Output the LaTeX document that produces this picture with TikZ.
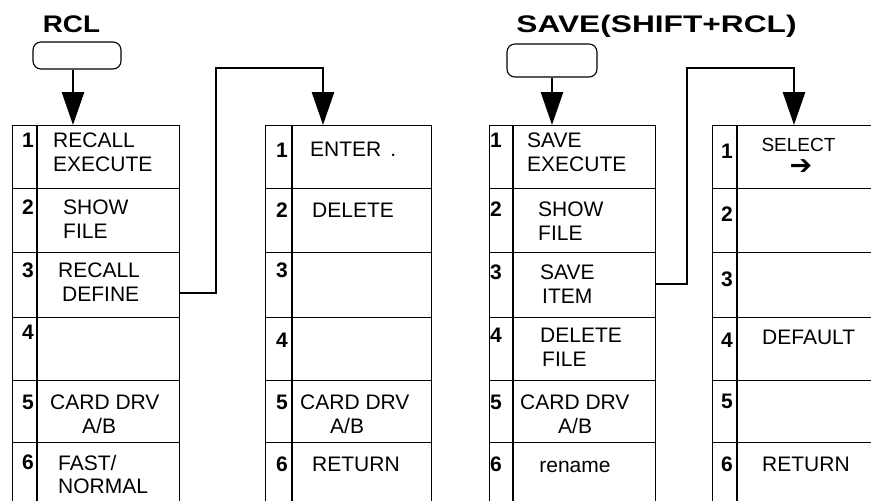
\documentclass[tikz,border=0pt]{standalone}
\usepackage{fontspec}
\setmainfont{Liberation Sans}
\newfontfamily\symfont{DejaVu Sans}
\usetikzlibrary{arrows.meta}
\tikzset{
  tline/.style={line width=1.1pt, black},
  rowbox/.style={draw, line width=1.1pt, inner sep=0pt, anchor=north west},
  keybox/.style={draw, line width=1.1pt, rounded corners=8pt, inner sep=0pt},
  conn/.style={line width=2.8pt, -{Triangle[width=22pt,length=33pt]}},
  celltext/.style={inner sep=0pt, anchor=north west, align=left, font=\fontsize{21}{23.5}\selectfont},
  numtext/.style={inner sep=0pt, anchor=north east, font=\bfseries\fontsize{21}{23.5}\selectfont},
  titletext/.style={inner sep=0pt, anchor=base, font=\bfseries\fontsize{24}{26}\selectfont}
}
\begin{document}
\begin{tikzpicture}[x=1pt,y=-1pt]
\useasboundingbox (0,0) rectangle (871,501);
\clip (0,0) rectangle (871,501);

% titles
\node[titletext] (title1) at (71.5,32) {\scalebox{1.16}[1]{RCL}};
\node[titletext] (title2) at (656.5,32) {\scalebox{1.32}[1]{SAVE(SHIFT+RCL)}};

% keys
\node[keybox, minimum width=88pt, minimum height=27pt] (k1) at (77,55.5) {};
\node[keybox, minimum width=90pt, minimum height=33pt] (k2) at (552,60.5) {};

% table rows
\foreach \t/\xl/\w in {1/12/167, 2/265/166, 3/489/166, 4/712/180} {
  \foreach \r/\tp/\h in {1/125/63, 2/188/64, 3/252/65, 4/317/63, 5/380/62, 6/442/80} {
    \node[rowbox, minimum width=\w pt, minimum height=\h pt] (t\t r\r) at (\xl,\tp) {};
  }
}
% number dividers
\draw[tline] (37,125) -- (37,525);
\draw[tline] (292,125) -- (292,525);
\draw[tline] (513,125) -- (513,525);
\draw[tline] (737,125) -- (737,525);

% arrows from keys
\draw[conn] ([xshift=-4pt]k1.south) -- ([xshift=-4pt]k1.south |- t1r1.north);
\draw[conn] (k2.south) -- (k2.south |- t3r1.north);

% connectors
\coordinate (j1a) at (216,68);
\coordinate (j1b) at (323,68);
\draw[conn, line join=miter] ([yshift=-8pt]t1r3.east) -| (j1a) -- (j1b) -- (j1b |- t2r1.north);
\coordinate (j2a) at (687,68);
\coordinate (j2b) at (794,68);
\draw[conn, line join=miter] ([yshift=1pt]t3r3.east) -| (j2a) -- (j2b) -- (j2b |- t4r1.north);

% numbers table 1
\node[numtext] (n11) at (34,133) {1};
\node[numtext] (n12) at (34,200) {2};
\node[numtext] (n13) at (34,263) {3};
\node[numtext] (n14) at (34,325) {4};
\node[numtext] (n15) at (34,395) {5};
\node[numtext] (n16) at (34,455) {6};
% numbers table 2
\node[numtext] (n21) at (288,143) {1};
\node[numtext] (n22) at (288,203) {2};
\node[numtext] (n23) at (288,263) {3};
\node[numtext] (n24) at (288,333) {4};
\node[numtext] (n25) at (288,395) {5};
\node[numtext] (n26) at (288,457) {6};
% numbers table 3
\node[numtext] (n31) at (502,133) {1};
\node[numtext] (n32) at (502,202) {2};
\node[numtext] (n33) at (502,265) {3};
\node[numtext] (n34) at (502,328) {4};
\node[numtext] (n35) at (502,395) {5};
\node[numtext] (n36) at (502,457) {6};
% numbers table 4
\node[numtext] (n41) at (733,144) {1};
\node[numtext] (n42) at (733,207) {2};
\node[numtext] (n43) at (733,272) {3};
\node[numtext] (n44) at (733,333) {4};
\node[numtext] (n45) at (733,394) {5};
\node[numtext] (n46) at (733,457) {6};

% texts table 1
\node[celltext] (x11) at (53,133) {RECALL\\EXECUTE};
\node[celltext] (x12) at (63,200) {SHOW\\FILE};
\node[celltext] (x13) at (58,263) {RECALL\\\hspace*{4pt}DEFINE};
\node[celltext] (x15) at (50,395) {CARD DRV\\\hspace*{32pt}A/B};
\node[celltext] (x16) at (58,455) {FAST/\\NORMAL};
% texts table 2
\node[celltext] (x21) at (310,142) {ENTER\hspace{9pt}.};
\node[celltext] (x22) at (312,203) {DELETE};
\node[celltext] (x25) at (300,395) {CARD DRV\\\hspace*{30pt}A/B};
\node[celltext] (x26) at (312,457) {RETURN};
% texts table 3
\node[celltext] (x31) at (527,133) {SAVE\\EXECUTE};
\node[celltext] (x32) at (538,202) {SHOW\\FILE};
\node[celltext] (x33) at (540,265) {SAVE\\\hspace*{2pt}ITEM};
\node[celltext] (x34) at (540,328) {DELETE\\\hspace*{2pt}FILE};
\node[celltext] (x35) at (520,395) {CARD DRV\\\hspace*{38pt}A/B};
\node[celltext, anchor=base] (x36) at (575,472) {rename};
% texts table 4
\node[celltext, anchor=north, font=\fontsize{19}{21}\selectfont] (x41) at (798.5,138) {SELECT};
\node[inner sep=0pt, font=\symfont\fontsize{27}{27}\selectfont] (x41b) at (801,167) {➔};
\node[celltext] (x44) at (762,330) {DEFAULT};
\node[celltext] (x46) at (762,457) {RETURN};
\end{tikzpicture}
\end{document}
